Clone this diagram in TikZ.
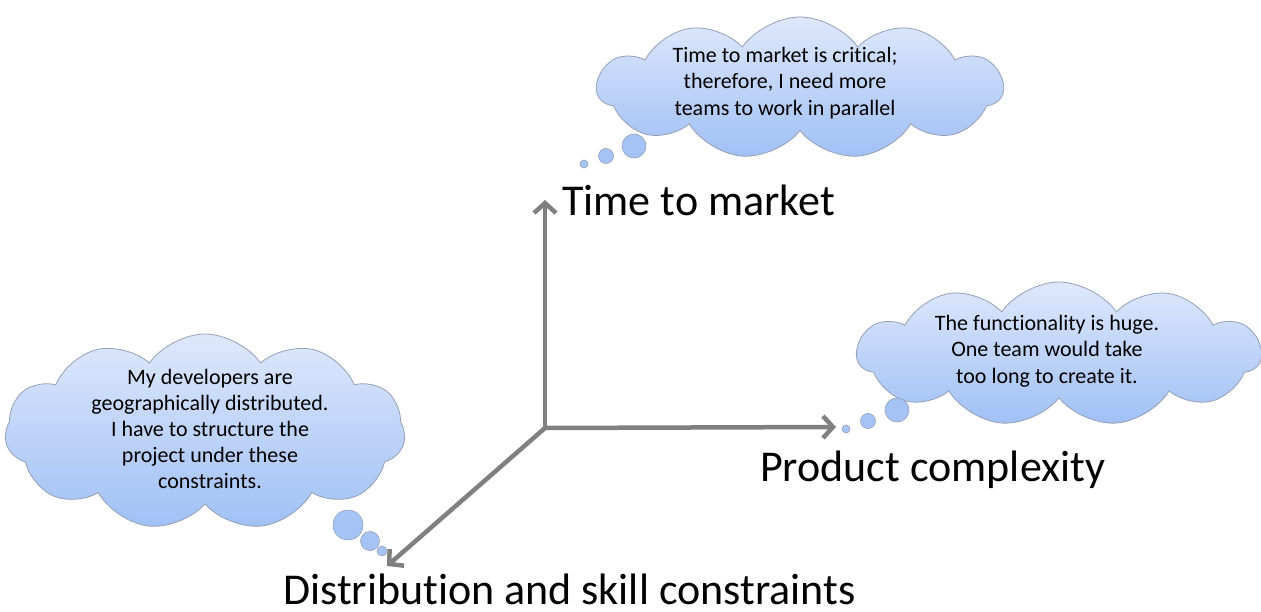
\documentclass[tikz,border=0pt]{standalone}
\usepackage{fontspec}
\setmainfont[Ligatures=NoCommon]{Carlito}
\usetikzlibrary{arrows.meta,shapes.symbols}
\definecolor{axisgray}{RGB}{128,128,128}
\definecolor{cloudtop}{RGB}{222,232,252}
\definecolor{cloudbot}{RGB}{160,192,245}
\definecolor{cloudline}{RGB}{150,160,180}
\definecolor{bubble}{RGB}{165,195,245}
\tikzset{
  axisarrow/.style={draw=axisgray, line width=4.5pt, -{Straight Barb[length=10pt,width=22pt,line width=4.5pt]}},
  thought/.style={cloud, cloud puffs=11, cloud puff arc=110, aspect=2.9, draw=cloudline, line width=0.8pt,
    top color=cloudtop, bottom color=cloudbot, inner sep=0pt},
  thoughttext/.style={align=center, font=\fontsize{22}{26.5}\selectfont, text=black, inner sep=0pt},
  bubblec/.style={circle, draw=cloudline, line width=0.6pt, fill=bubble, inner sep=0pt},
  biglabel/.style={font=\fontsize{44}{48}\selectfont, text=black, inner sep=0pt}
}
\begin{document}
\begin{tikzpicture}[x=1pt,y=-1pt]
\useasboundingbox (0,0) rectangle (1261,612);
% axes
\coordinate (o) at (545,428);
\coordinate (up) at (545,200);
\coordinate (rt) at (836,427);
\coordinate (dl) at (387,566);
\draw[axisarrow] (o) -- (up);
\draw[axisarrow] (o) -- (rt);
\draw[axisarrow] (o) -- (dl);
% labels
\node[biglabel, anchor=base west] (ltm) at (562,216) {Time to market};
\node[biglabel, anchor=base west] (lpc) at (760,481) {Product complexity};
\node[biglabel, anchor=base west, text depth=0pt] (ldc) at (283,604) {Distribution and skill constraints};
% clouds
\node[thought, minimum width=406pt, minimum height=142pt] (c1) at (800,88) {};
\node[thoughttext] (t1) at (785,83) {Time to market is critical;\\therefore, I need more\\teams to work in parallel};
\node[thought, minimum width=404pt, minimum height=144pt] (c2) at (1059,354) {};
\node[thoughttext] (t2) at (1047,351) {The functionality is huge.\\One team would take\\too long to create it.};
\node[thought, minimum width=400pt, minimum height=196pt, aspect=2.0] (c3) at (205,432) {};
\node[thoughttext, font=\fontsize{22}{26}\selectfont] (t3) at (210,429) {My developers are\\geographically distributed.\\I have to structure the\\project under these\\constraints.};
% bubbles
\node[bubblec, minimum size=24pt] (b11) at (634,146) {};
\node[bubblec, minimum size=15pt] (b12) at (606,156) {};
\node[bubblec, minimum size=8pt] (b13) at (584,164) {};
\node[bubblec, minimum size=24pt] (b21) at (897,410) {};
\node[bubblec, minimum size=15pt] (b22) at (868,421) {};
\node[bubblec, minimum size=8pt] (b23) at (846,429) {};
\node[bubblec, minimum size=30pt] (b31) at (348,525) {};
\node[bubblec, minimum size=19pt] (b32) at (370,541) {};
\node[bubblec, minimum size=10pt] (b33) at (382,551) {};
\end{tikzpicture}
\end{document}
